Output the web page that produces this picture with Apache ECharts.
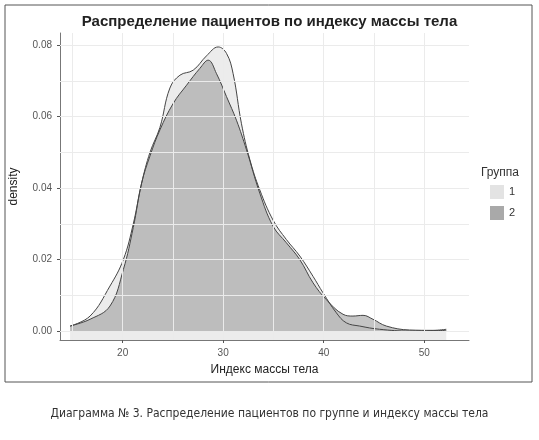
<!DOCTYPE html>
<html><head><meta charset="utf-8">
<script src="https://cdn.jsdelivr.net/npm/echarts@6/dist/echarts.min.js"></script>
<style>body{margin:0;background:#fff}#c{width:539px;height:440px}</style>
</head><body><div id="c"></div>
<script>
const bmi1 = [14.77,16.76,18.74,20.07,21.06,21.89,22.72,23.71,24.70,25.70,27.02,28.34,29.50,30.33,30.99,31.82,32.65,33.64,34.97,36.29,37.62,38.94,39.93,41.26,42.25,43.58,45.56,48.54,52.19];
const dens1 = [0.0014,0.0042,0.0126,0.0200,0.0300,0.0414,0.0500,0.0570,0.0680,0.0716,0.0730,0.0770,0.0795,0.0777,0.0720,0.0580,0.0480,0.0395,0.0310,0.0256,0.0210,0.0153,0.0107,0.0051,0.0023,0.0014,0.0005,0.0000,0.0002];
const bmi2 = [14.77,16.76,18.74,20.07,21.06,21.89,22.72,23.71,25.03,26.36,27.68,28.51,29.34,30.33,31.32,32.32,33.64,34.97,36.29,37.62,38.94,40.26,41.92,42.91,43.91,44.90,46.23,48.54,50.86,52.19];
const dens2 = [0.0014,0.0033,0.0070,0.0172,0.0290,0.0414,0.0490,0.0563,0.0637,0.0688,0.0735,0.0758,0.0720,0.0656,0.0590,0.0507,0.0386,0.0293,0.0247,0.0200,0.0135,0.0088,0.0047,0.0042,0.0044,0.0033,0.0014,0.0003,0.0002,0.0005];
const groups = ['1','2'];
const xGrid = [15,20,25,30,35,40,45,50];
const yGrid = [0,0.01,0.02,0.03,0.04,0.05,0.06,0.07,0.08];
const xLabels = [20,30,40,50];
const yLabels = [0,0.02,0.04,0.06,0.08];

const chart = echarts.init(document.getElementById('c'));
const toPts = (xs, ys) => xs.map((x,i)=>[x,ys[i]]);
chart.setOption({
  animation:false,
  graphic:[{type:'rect',shape:{x:5,y:5,width:527,height:377},style:{fill:'none',stroke:'#555',lineWidth:1}}],
  title:[
    {text:'Распределение пациентов по индексу массы тела',left:'center',top:9,textStyle:{fontFamily:'Liberation Sans',fontSize:15,fontWeight:'bold',color:'#222'}},
    {text:'Группа',left:476,top:162,textStyle:{fontFamily:'Liberation Sans',fontSize:12,fontWeight:'normal',color:'#333'}},
    {text:'Диаграмма № 3. Распределение пациентов по группе и индексу массы тела',left:'center',top:403,textStyle:{fontFamily:'Liberation Sans Narrow, DejaVu Sans Condensed',fontSize:12,fontWeight:'normal',color:'#333'}}
  ],
  legend:{orient:'vertical',left:485,top:180,itemWidth:14,itemHeight:14,itemGap:7,icon:'rect',
    textStyle:{fontFamily:'Liberation Sans',fontSize:11,color:'#333'},data:groups},
  grid:{left:60,top:33,right:70,bottom:100},
  xAxis:{type:'value',min:13.77,max:54.45,name:'Индекс массы тела',nameLocation:'middle',nameGap:24,
    nameTextStyle:{fontFamily:'Liberation Sans',fontSize:12,color:'#222'},
    axisLine:{show:true,onZero:false,lineStyle:{color:'#777'}},
    axisTick:{show:true,customValues:xLabels,length:3,lineStyle:{color:'#555'}},
    axisLabel:{customValues:xLabels,color:'#555',fontSize:10,fontFamily:'Liberation Sans'},
    splitLine:{show:false}},
  yAxis:{type:'value',min:-0.0025,max:0.0834,name:'density',nameLocation:'middle',nameGap:40,
    nameTextStyle:{fontFamily:'Liberation Sans',fontSize:12,color:'#222'},
    axisLine:{show:true,lineStyle:{color:'#777'}},
    axisTick:{show:true,customValues:yLabels,length:3,lineStyle:{color:'#555'}},
    axisLabel:{customValues:yLabels,color:'#555',fontSize:10,fontFamily:'Liberation Sans',formatter:v=>v.toFixed(2)},
    splitLine:{show:false}},
  series:[
    {type:'line',name:'__grid',data:[],silent:true,legendHoverLink:false,
     markLine:{silent:true,symbol:'none',label:{show:false},lineStyle:{color:'#ebebeb',type:'solid',width:1},
       data:[...xGrid.map(v=>({xAxis:v})),...yGrid.map(v=>({yAxis:v}))]}},
    {type:'line',name:groups[0],data:toPts(bmi1,dens1),smooth:0.4,showSymbol:false,
     lineStyle:{color:'#444',width:1},itemStyle:{color:'#e3e3e3',borderColor:'#444'},
     areaStyle:{color:'rgba(225,225,225,0.9)',origin:'start'}},
    {type:'line',name:groups[1],data:toPts(bmi2,dens2),smooth:0.4,showSymbol:false,
     lineStyle:{color:'#444',width:1},itemStyle:{color:'#a9a9a9',borderColor:'#444'},
     areaStyle:{color:'rgba(160,160,160,0.88)',origin:0}}
  ]
});
chart.on && null;
</script></body></html>
